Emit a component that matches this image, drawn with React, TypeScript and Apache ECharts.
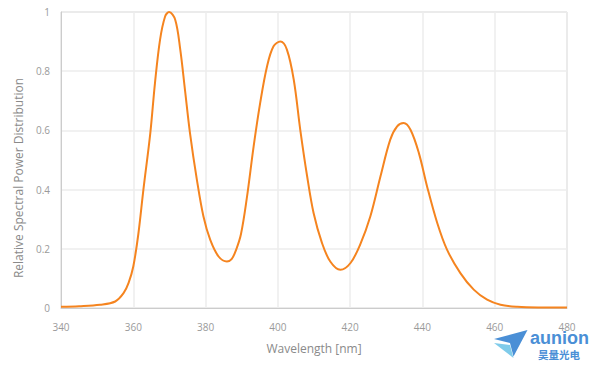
import React, { useEffect, useRef } from "react";
import * as echarts from "echarts";

const wavelengths = [
  340, 345, 350.8, 355, 357.3, 358.7, 360, 361.4, 362.8, 364.7, 366, 367.4, 368.8, 369.9,
  371.6, 373, 374.3, 375.7, 377.6, 379.4, 381.3, 383.6, 385.9, 387.2, 388.4, 389.8, 391.4,
  393.3, 395.1, 397, 398.8, 400.7, 402.5, 404.4, 406.2, 408.1, 409.9, 412.2, 414.5,
  417.3, 420.1, 422.8, 425.6, 428.4, 431.1, 433, 434.8, 436.7, 439, 441.3, 444.1,
  446.8, 450.5, 454.2, 457.9, 461.6, 466.2, 472, 480,
];
const relativePower = [
  0.004, 0.006, 0.011, 0.022, 0.05, 0.085, 0.14, 0.25, 0.4, 0.59, 0.76, 0.906, 0.985, 1.0,
  0.974, 0.873, 0.737, 0.59, 0.433, 0.31, 0.23, 0.174, 0.157, 0.165, 0.195, 0.25, 0.37,
  0.546, 0.692, 0.816, 0.884, 0.9, 0.873, 0.771, 0.602, 0.445, 0.32, 0.22, 0.157,
  0.129, 0.152, 0.215, 0.31, 0.445, 0.569, 0.614, 0.625, 0.602, 0.524, 0.41, 0.287,
  0.197, 0.118, 0.062, 0.028, 0.011, 0.004, 0.002, 0.002,
];
const xTitle = "Wavelength [nm]";
const yTitle = "Relative Spectral Power Distribution";

export default function App() {
  const ref = useRef<HTMLDivElement>(null);
  useEffect(() => {
    if (!ref.current) return;
    const chart = echarts.init(ref.current, null, { renderer: "svg" });
    const font = "'Open Sans', 'Noto Sans', sans-serif";
    const data = wavelengths.map((w, i) => [w, relativePower[i]]);
    chart.setOption({
      animation: false,
      backgroundColor: "#ffffff",
      grid: {
        left: 61,
        right: 37,
        top: 12,
        bottom: 62,
        show: true,
        borderColor: "#cccccc",
        borderWidth: 1,
      },
      xAxis: {
        type: "value",
        min: 340,
        max: 480,
        interval: 20,
        name: xTitle,
        nameLocation: "middle",
        nameGap: 34,
        nameTextStyle: { color: "#8a8a8a", fontSize: 12, fontFamily: font },
        axisLine: { show: true, lineStyle: { color: "#cccccc" } },
        axisTick: { show: false },
        axisLabel: { color: "#9a9a9a", fontSize: 10, fontFamily: font, margin: 14 },
        splitLine: { show: true, lineStyle: { color: "#ececec", width: 1.5 } },
      },
      yAxis: {
        type: "value",
        min: 0,
        max: 1,
        interval: 0.2,
        axisLine: { show: true, lineStyle: { color: "#cccccc" } },
        axisTick: { show: false },
        axisLabel: { color: "#9a9a9a", fontSize: 10, fontFamily: font, margin: 11 },
        splitLine: { show: true, lineStyle: { color: "#ececec", width: 1.5 } },
      },
      graphic: [
        {
          type: "text",
          x: 18,
          y: 178,
          rotation: Math.PI / 2,
          style: {
            text: yTitle,
            fill: "#8a8a8a",
            fontSize: 12,
            fontFamily: font,
            align: "center",
            verticalAlign: "middle",
          },
        },
        {
          type: "polygon",
          shape: { points: [[494, 343], [510, 345], [513.5, 358]] },
          style: { fill: "#7fcbea" },
        },
        {
          type: "polygon",
          shape: { points: [[494, 339], [527.5, 330], [513.5, 356.5], [510, 343]] },
          style: { fill: "#4a8fd6" },
        },
        {
          type: "text",
          x: 530,
          y: 347,
          style: {
            text: "aunion",
            fill: "#4a8fd6",
            fontSize: 18,
            fontWeight: "bold",
            fontFamily: "'Liberation Sans', Arial, sans-serif",
            verticalAlign: "bottom",
          },
        },
        {
          type: "text",
          x: 538,
          y: 354,
          style: {
            text: "昊量光电",
            fill: "#4a8fd6",
            fontSize: 10.5,
            fontWeight: "bold",
            fontFamily: "'Noto Sans CJK SC', sans-serif",
            verticalAlign: "middle",
          },
        },
      ],
      series: [
        {
          type: "line",
          data,
          smooth: 0.35,
          showSymbol: false,
          lineStyle: { color: "#f5841f", width: 2 },
        },
      ],
    });
    return () => chart.dispose();
  }, []);
  return <div ref={ref} style={{ width: 604, height: 370, position: "absolute", left: 0, top: 0 }} />;
}
